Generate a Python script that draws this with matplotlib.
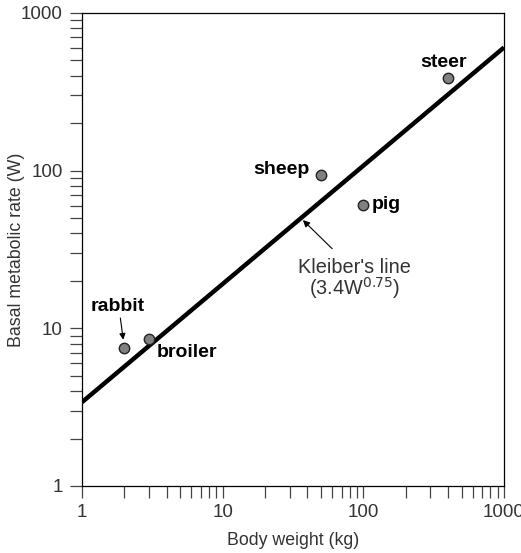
import numpy as np
import matplotlib
matplotlib.use("Agg")
import matplotlib.pyplot as plt
from matplotlib.ticker import FixedLocator, NullFormatter, LogLocator

# -----------------------------
# DATA
# -----------------------------
animals = ["rabbit", "broiler", "sheep", "pig", "steer"]
body_weight = [2, 3, 50, 100, 400]          # kg
metabolic_rate = [7.5, 8.6, 94, 61, 385]     # W

kleiber_coef = 3.4
kleiber_exp = 0.75
line_w = [1, 1000]

tick_vals = [1, 10, 100, 1000]
tick_labels = ["1", "10", "100", "1000"]

# -----------------------------
# PLOT
# -----------------------------
plt.rcParams["font.family"] = ["Liberation Sans", "DejaVu Sans"]
text_col = "#333333"

fig = plt.figure(figsize=(5.21, 5.53), dpi=100)
ax = fig.add_axes([0.1574, 0.1212, 0.81, 0.8553])

w_line = np.logspace(np.log10(line_w[0]), np.log10(line_w[1]), 50)
ax.plot(w_line, kleiber_coef * w_line ** kleiber_exp, color="black", linewidth=3.2,
        solid_capstyle="butt", zorder=2)

ax.plot(body_weight, metabolic_rate, linestyle="none", marker="o", markersize=7.5,
        markerfacecolor="#808080", markeredgecolor="#222222", markeredgewidth=1.0,
        zorder=3)

ax.set_xscale("log")
ax.set_yscale("log")
ax.set_xlim(1, 1000)
ax.set_ylim(1, 1000)

for axis in (ax.xaxis, ax.yaxis):
    axis.set_major_locator(FixedLocator(tick_vals))
    axis.set_minor_locator(LogLocator(base=10, subs=np.arange(2, 10)))
    axis.set_minor_formatter(NullFormatter())
ax.set_xticklabels(tick_labels)
ax.set_yticklabels(tick_labels)

ax.tick_params(which="both", direction="out", length=8.7, width=0.9, color="#444444",
               labelsize=13.5, labelcolor=text_col)
ax.tick_params(axis="x", pad=4)
ax.tick_params(axis="y", pad=5)
for s in ax.spines.values():
    s.set_linewidth(0.9)

ax.set_xlabel("Body weight (kg)", fontsize=12.8, color=text_col, va="center")
ax.set_ylabel("Basal metabolic rate (W)", fontsize=12.8, color=text_col, va="center")
ax.xaxis.set_label_coords(0.5, -0.115)
ax.yaxis.set_label_coords(-0.156, 0.5)

# animal labels
label_off = {
    "rabbit": (-7, 42, "center"),
    "broiler": (8, -14, "left"),
    "sheep": (-11, 5, "right"),
    "pig": (8, 0, "left"),
    "steer": (-5, 16, "center"),
}
for name, w, r in zip(animals, body_weight, metabolic_rate):
    dx, dy, ha = label_off[name]
    ax.annotate(name, (w, r), xytext=(dx, dy), textcoords="offset pixels",
                ha=ha, va="center", fontsize=14, fontweight="bold", color="black")

# rabbit arrow
ax.annotate("", xy=(body_weight[0], metabolic_rate[0]), xytext=(-4, 30),
            textcoords="offset pixels",
            arrowprops=dict(arrowstyle="-|>", color="black", lw=0.8,
                            shrinkA=0, shrinkB=6, mutation_scale=9))

# Kleiber's line label
kw = 36
ax.annotate("", xy=(kw, kleiber_coef * kw ** kleiber_exp), xytext=(60, 32),
            textcoords="data",
            arrowprops=dict(arrowstyle="-|>", color="black", lw=0.8,
                            shrinkA=0, shrinkB=2, mutation_scale=10))
ax.text(0.645, 0.481, "Kleiber's line\n(3.4W$^{0.75}$)", transform=ax.transAxes,
        ha="center", va="top", fontsize=14.3, color=text_col, linespacing=0.9)

fig.savefig("out.png", dpi=100)
